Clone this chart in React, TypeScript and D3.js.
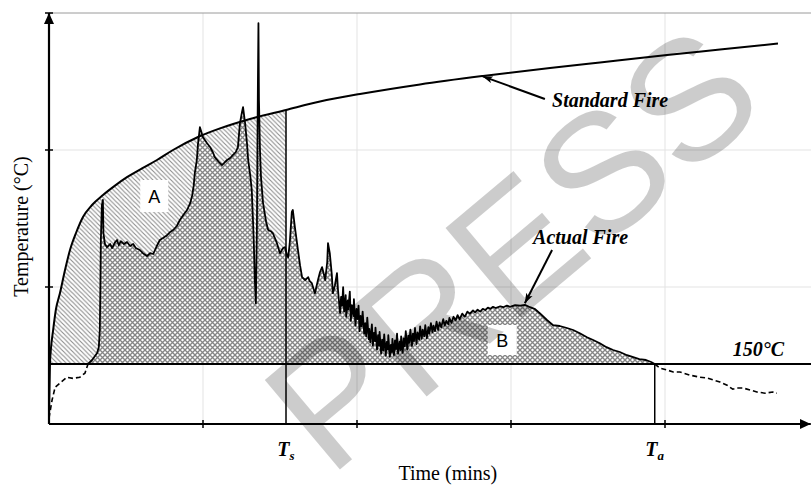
import React from "react";
import * as d3 from "d3";

const W = 811;
const H = 487;

// Axis domains (no numeric labels in the source)
const timeMax = 150; // minutes
const tempMax = 1027.5; // °C
const axisEndTime = 148.4;
const timeTicks = [30, 60, 90, 120];
const tempTicks = [342.5, 685, 1027.5];
const threshold = 150;
const Ts = 46.17;
const Ta = 118.0;

// Standard fire curve [time (min), temperature (°C)]
const standardFire: [number, number][] = [
  [0, 20], [0.19, 152.5], [0.39, 190], [0.78, 232.5], [1.36, 287.5], [2.14, 327.5],
  [3.12, 385], [4.09, 435], [5.26, 477.5], [6.62, 517.5], [8.38, 547.5], [10.52, 572.5],
  [12.86, 596], [15.19, 617], [18.12, 639], [21.04, 660], [24.16, 685], [29.03, 717.5],
  [33.31, 739], [39.16, 762.5], [46.17, 785], [52.79, 806], [60.58, 825], [72.27, 849],
  [84.55, 870], [97.6, 890], [107.34, 904], [120.39, 922.5], [130.71, 936], [142.01, 951],
];

// Actual fire: below-threshold start (dashed)
const actualPre: [number, number][] = [
  [0, 15], [0.6, 60], [1.2, 92], [2.1, 102], [3.5, 117], [4.7, 114], [6.0, 117], [7.0, 127], [7.6, 150],
];

// Actual fire: above threshold (solid)
const actualMain: [number, number][] = [
  [7.6, 150], [8.4, 160], [9.35, 177], [9.7, 192], [9.9, 235], [10.0, 335], [10.1, 460], [10.3, 547],
  [10.5, 560], [10.6, 477], [10.9, 450], [11.3, 442], [11.9, 450], [12.3, 440], [12.9, 455], [13.25, 460],
  [13.6, 447], [14.0, 457], [14.6, 450], [15.2, 455], [15.8, 445], [16.4, 450], [16.9, 440], [17.7, 435],
  [18.3, 427], [19.1, 420], [19.7, 427], [20.3, 425], [21.0, 445], [21.6, 460], [22.2, 465], [23.0, 472],
  [23.6, 480], [24.2, 485], [24.9, 495], [25.5, 510], [26.3, 525], [26.9, 535], [27.5, 552], [27.9, 572],
  [28.2, 597], [28.4, 627], [28.8, 660], [29.0, 697], [29.4, 742], [30.0, 717], [30.8, 702], [31.4, 692],
  [31.9, 680], [32.3, 667], [33.1, 655], [33.7, 647], [34.3, 655], [34.7, 660], [35.3, 665], [35.8, 672],
  [36.4, 680], [36.8, 692], [37.2, 752], [37.6, 780], [37.8, 792], [38.2, 752], [38.6, 697], [38.8, 660],
  [39.2, 622], [39.5, 585], [39.7, 522], [39.9, 452], [40.1, 360], [40.3, 302], [40.5, 485], [40.6, 685],
  [40.7, 860], [40.8, 1002], [40.9, 810], [41.1, 685], [41.3, 617], [41.7, 552], [42.3, 505], [42.7, 485],
  [43.2, 482], [43.6, 477], [44.0, 465], [44.4, 452], [45.0, 427], [45.6, 440], [46.0, 442], [46.4, 420],
  [46.6, 417], [46.9, 452], [47.3, 530], [47.5, 535], [47.9, 492], [48.5, 435], [48.9, 397], [49.3, 367],
  [49.9, 360], [50.5, 367], [50.8, 357], [51.2, 352], [51.8, 327], [52.4, 360], [52.8, 380], [53.2, 392],
  [53.6, 372], [53.8, 360], [54.2, 405], [54.35, 452], [54.7, 427], [55.1, 372], [55.3, 327], [55.7, 347],
  [56.1, 377], [56.3, 335], [56.7, 277],
  [56.9, 318], [57.1, 296], [57.3, 342], [57.5, 281], [57.8, 322], [57.9, 268], [58.2, 309], [58.3, 286],
  [58.6, 331], [58.8, 258], [59.0, 297], [59.3, 270], [59.4, 312], [59.7, 246], [59.9, 288], [60.1, 262],
  [60.3, 296], [60.5, 232], [60.7, 270], [60.9, 244], [61.1, 281], [61.4, 226], [61.6, 252], [61.8, 219],
  [62.0, 266], [62.3, 212], [62.4, 238], [62.6, 204], [62.9, 249], [63.1, 196], [63.3, 228], [63.5, 207],
  [63.6, 241], [63.9, 186], [64.1, 222], [64.3, 196], [64.4, 230], [64.7, 176], [64.9, 211], [65.1, 184],
  [65.3, 224], [65.6, 171], [65.8, 205], [66.0, 186], [66.1, 222], [66.4, 168], [66.6, 198], [66.8, 180],
  [66.9, 213], [67.2, 172], [67.4, 209], [67.6, 187], [67.8, 226], [68.0, 176], [68.3, 206], [68.5, 185],
  [68.6, 219], [68.9, 178], [69.1, 214], [69.3, 194], [69.5, 232], [69.8, 186], [70.0, 221], [70.2, 203],
  [70.4, 236], [70.7, 195], [70.9, 226], [71.1, 207], [71.3, 240], [71.6, 200], [71.8, 229], [72.1, 211],
  [72.3, 244], [72.6, 213], [72.8, 236], [73.1, 219], [73.3, 247], [73.6, 214], [73.9, 242], [74.1, 226],
  [74.4, 252], [74.7, 229], [74.9, 246], [75.2, 232], [75.5, 256], [75.8, 235], [76.1, 254], [76.4, 242],
  [76.8, 262], [77.1, 246], [77.4, 258], [77.8, 249], [78.0, 265], [78.4, 253], [78.8, 268], [79.2, 259],
  [79.6, 272], [80.0, 262], [80.5, 276], [81.0, 268], [81.5, 281], [82.0, 276],
  [82.6, 284], [83.0, 279], [83.5, 286], [84.0, 281], [84.5, 288], [85.0, 285], [85.5, 291], [86.0, 288],
  [86.5, 293], [87.0, 290], [87.9, 294], [88.5, 292], [89.2, 296], [89.8, 293], [90.8, 297], [91.8, 296],
  [92.7, 298], [93.7, 292], [94.7, 287], [95.6, 277], [97.0, 260], [98.2, 247], [99.5, 245], [100.9, 240],
  [102.1, 235], [103.4, 227], [104.8, 217], [106.0, 210], [107.3, 202], [108.6, 192], [109.9, 185],
  [111.2, 180], [112.6, 172], [113.8, 167], [115.0, 162], [116.3, 160], [117.3, 155], [118.0, 150],
];

// Actual fire: decay below threshold (dashed)
const actualPost: [number, number][] = [
  [118.0, 150], [119.0, 140], [120.4, 135], [121.6, 130], [122.9, 130], [124.9, 122], [126.8, 117],
  [128.2, 115], [129.4, 110], [130.7, 105], [132.1, 97], [133.2, 87], [134.0, 90], [135.2, 90],
  [136.6, 85], [137.9, 80], [139.5, 77], [141.0, 80], [141.8, 77],
];

const serif = "'Liberation Serif', 'Times New Roman', serif";
const sans = "'Liberation Sans', Arial, sans-serif";

export default function App() {
  const x = d3.scaleLinear().domain([0, timeMax]).range([49, 819]);
  const y = d3.scaleLinear().domain([0, tempMax]).range([424, 13]);

  const lineStd = d3
    .line<[number, number]>()
    .x((d) => x(d[0]))
    .y((d) => y(d[1]))
    .curve(d3.curveMonotoneX);
  const areaStd = d3
    .area<[number, number]>()
    .x((d) => x(d[0]))
    .y0(y(threshold))
    .y1((d) => y(d[1]))
    .curve(d3.curveMonotoneX);
  const lineAct = d3
    .line<[number, number]>()
    .x((d) => x(d[0]))
    .y((d) => y(d[1]));
  const areaAct = d3
    .area<[number, number]>()
    .x((d) => x(d[0]))
    .y0(y(threshold))
    .y1((d) => y(d[1]));

  const stdRegionA = standardFire.filter((d) => d[1] >= threshold && d[0] <= Ts + 0.001);
  const stdAtTs = standardFire.find((d) => Math.abs(d[0] - Ts) < 0.01)![1];

  const x0 = x(0);
  const y0 = y(0);

  return (
    <svg
      width={W}
      height={H}
      style={{ position: "absolute", left: 0, top: 0, background: "#fff" }}
    >
      <defs>
        <pattern id="hatch" patternUnits="userSpaceOnUse" width="4.5" height="4.5">
          <rect width="4.5" height="4.5" fill="#fff" />
          <path d="M0,0 L4.5,4.5 M-1,3.5 L1,5.5 M3.5,-1 L5.5,1" stroke="#8c8c8c" strokeWidth="1.1" />
        </pattern>
        <pattern id="cross" patternUnits="userSpaceOnUse" width="5" height="5">
          <rect width="5" height="5" fill="#fff" />
          <path d="M0,0 L5,5 M5,0 L0,5" stroke="#858585" strokeWidth="1.35" />
        </pattern>
        <marker id="arr" markerUnits="userSpaceOnUse" markerWidth="12" markerHeight="8" refX="10" refY="4" orient="auto">
          <path d="M0,0.5 L10,4 L0,7.5 L2.5,4 z" fill="#000" />
        </marker>
        <marker id="axArr" markerUnits="userSpaceOnUse" markerWidth="12" markerHeight="10" refX="11" refY="5" orient="auto">
          <path d="M0,0 L11,5 L0,10 z" fill="#000" />
        </marker>
      </defs>

      {/* grid */}
      {timeTicks.map((t) => (
        <line key={"gx" + t} x1={x(t)} x2={x(t)} y1={y(tempMax)} y2={y0} stroke="#e3e3e3" strokeWidth={1} />
      ))}
      {tempTicks.slice(0, -1).map((v) => (
        <line key={"gy" + v} x1={x0} x2={W} y1={y(v)} y2={y(v)} stroke="#e3e3e3" strokeWidth={1} />
      ))}
      <line x1={x0} x2={W} y1={y(tempMax)} y2={y(tempMax)} stroke="#9a9a9a" strokeWidth={1} />

      {/* Region A (standard fire above 150°C up to Ts) */}
      <path d={areaStd(stdRegionA) || ""} fill="url(#hatch)" />
      {/* Region under actual fire */}
      <path d={areaAct(actualMain) || ""} fill="url(#cross)" />

      {/* Ts / Ta verticals */}
      <line x1={x(Ts)} x2={x(Ts)} y1={y0} y2={y(stdAtTs)} stroke="#000" strokeWidth={1.5} />
      <line x1={x(Ta)} x2={x(Ta)} y1={y0} y2={y(threshold)} stroke="#000" strokeWidth={1.5} />

      {/* 150 line */}
      <line x1={x0} x2={W} y1={y(threshold)} y2={y(threshold)} stroke="#000" strokeWidth={2} />

      {/* curves */}
      <path d={lineStd(standardFire) || ""} fill="none" stroke="#000" strokeWidth={2} />
      <path d={lineAct(actualPre) || ""} fill="none" stroke="#000" strokeWidth={1.6} strokeDasharray="5,3" />
      <path d={lineAct(actualMain) || ""} fill="none" stroke="#000" strokeWidth={1.8} strokeLinejoin="round" />
      <path d={lineAct(actualPost) || ""} fill="none" stroke="#000" strokeWidth={1.6} strokeDasharray="5,3" />

      {/* axes */}
      <line x1={x0} x2={x(axisEndTime)} y1={y0} y2={y0} stroke="#000" strokeWidth={2.2} markerEnd="url(#axArr)" />
      <line x1={x0} x2={x0} y1={y0} y2={y(tempMax)} stroke="#000" strokeWidth={2.2} markerEnd="url(#axArr)" />
      {timeTicks.map((t) => (
        <line key={"tx" + t} x1={x(t)} x2={x(t)} y1={y0 - 4} y2={y0 + 4} stroke="#000" strokeWidth={1.5} />
      ))}
      {tempTicks.map((v) => (
        <line key={"ty" + v} x1={x0 - 4} x2={x0 + 4} y1={y(v)} y2={y(v)} stroke="#000" strokeWidth={1.5} />
      ))}

      {/* region labels */}
      <rect x={x(20.5) - 14} y={y(570) - 16} width={28} height={32} fill="#fff" />
      <text x={x(20.5)} y={y(570) + 6.5} textAnchor="middle" fontFamily={sans} fontSize={18}>A</text>
      <rect x={x(88.3) - 14.5} y={y(210) - 15} width={29} height={30} fill="#fff" />
      <text x={x(88.3)} y={y(210) + 6.5} textAnchor="middle" fontFamily={sans} fontSize={18}>B</text>

      {/* annotations */}
      <line x1={x(96.6)} y1={y(812.5)} x2={x(84.5)} y2={y(869)} stroke="#000" strokeWidth={2} markerEnd="url(#arr)" />
      <text x={x(98.0)} y={y(792)} fontFamily={serif} fontStyle="italic" fontWeight="bold" fontSize={20}>Standard Fire</text>
      <line x1={x(98.0)} y1={y(435)} x2={x(92.7)} y2={y(302)} stroke="#000" strokeWidth={2} markerEnd="url(#arr)" />
      <text x={x(94.3)} y={y(450)} fontFamily={serif} fontStyle="italic" fontWeight="bold" fontSize={20}>Actual Fire</text>
      <text x={x(133.2)} y={y(170)} fontFamily={serif} fontStyle="italic" fontWeight="bold" fontSize={20}>150°C</text>

      <text x={x(Ts)} y={y0 + 32} textAnchor="middle" fontFamily={serif} fontStyle="italic" fontWeight="bold" fontSize={20}>
        T<tspan fontSize={13} dy={4}>s</tspan>
      </text>
      <text x={x(Ta)} y={y0 + 32} textAnchor="middle" fontFamily={serif} fontStyle="italic" fontWeight="bold" fontSize={20}>
        T<tspan fontSize={13} dy={4}>a</tspan>
      </text>

      {/* axis titles */}
      <text x={x(77.7)} y={480} textAnchor="middle" fontFamily={serif} fontSize={20}>Time (mins)</text>
      <text transform={`translate(28,${(y(tempMax) + y0) / 2 + 8}) rotate(-90)`} textAnchor="middle" fontFamily={serif} fontSize={20}>
        Temperature (°C)
      </text>

      {/* watermark */}
      <text
        transform="translate(512,248) rotate(-40)"
        textAnchor="middle"
        dominantBaseline="central"
        fontFamily={sans}
        fontSize={170}
        fill="#000"
        fillOpacity={0.2}
      >
        PRESS
      </text>
    </svg>
  );
}
